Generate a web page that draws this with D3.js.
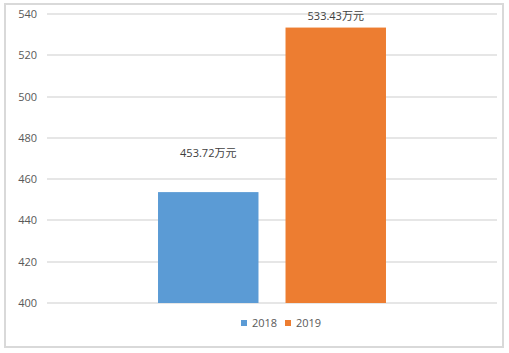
<!DOCTYPE html>
<html>
<head>
<meta charset="utf-8">
<script src="https://cdn.jsdelivr.net/npm/d3@7"></script>
<style>
  body { margin: 0; background: #fff; }
  svg { font-family: "Open Sans", "Noto Sans CJK SC", sans-serif; }
</style>
</head>
<body>
<svg id="chart" width="509" height="353"></svg>
<script>
// chart data
const categories = [""];
const seriesNames = ["2018", "2019"];
const seriesValues = [453.72, 533.43];
const valueLabels = ["453.72万元", "533.43万元"];
const yTicks = [400, 420, 440, 460, 480, 500, 520, 540];

const colors = { "2018": "#5b9bd5", "2019": "#ed7d31" };

const svg = d3.select("#chart");
const plot = { left: 47, right: 497, top: 14, bottom: 303 };

// frame
svg.append("rect")
    .attr("x", 5).attr("y", 4)
    .attr("width", 498).attr("height", 343)
    .attr("fill", "#fff")
    .attr("stroke", "#d9d9d9")
    .attr("stroke-width", 2);

const y = d3.scaleLinear()
    .domain([400, 540])
    .range([plot.bottom, plot.top]);

const x0 = d3.scaleBand()
    .domain(categories)
    .range([plot.left, plot.right])
    .paddingInner(0)
    .paddingOuter(0.487);

const x1 = d3.scaleBand()
    .domain(seriesNames)
    .range([0, x0.bandwidth()])
    .paddingInner(0.212);

// gridlines
svg.append("g")
    .selectAll("line")
    .data(yTicks)
    .enter().append("line")
    .attr("x1", plot.left).attr("x2", plot.right)
    .attr("y1", d => Math.round(y(d)))
    .attr("y2", d => Math.round(y(d)))
    .attr("stroke", "#e6e6e6")
    .attr("stroke-width", 2);

// y axis labels
const yAxis = svg.append("g")
    .attr("transform", `translate(${plot.left - 10},0)`)
    .call(d3.axisLeft(y).tickValues(yTicks).tickSize(0).tickPadding(0));
yAxis.select(".domain").remove();
yAxis.selectAll("text")
    .attr("fill", "#595959")
    .attr("font-size", 11)
    .attr("font-family", "'Open Sans', sans-serif");

const bars = seriesNames.map((s, i) => ({ name: s, value: seriesValues[i], label: valueLabels[i], cat: categories[0] }));

// bars
svg.append("g")
    .selectAll("rect")
    .data(bars)
    .enter().append("rect")
    .attr("x", d => x0(d.cat) + x1(d.name))
    .attr("y", d => y(d.value))
    .attr("width", x1.bandwidth())
    .attr("height", d => y(400) - y(d.value))
    .attr("fill", d => colors[d.name]);

// data labels (Excel placed the 2018 one well above its bar)
const labelOffset = { "2018": 39, "2019": 11 };
svg.append("g")
    .selectAll("text")
    .data(bars)
    .enter().append("text")
    .attr("x", d => x0(d.cat) + x1(d.name) + x1.bandwidth() / 2)
    .attr("y", d => y(d.value) - labelOffset[d.name])
    .attr("dy", "0.35em")
    .attr("text-anchor", "middle")
    .attr("fill", "#404040")
    .attr("font-size", 11)
    .text(d => d.label);

// legend
const legend = svg.append("g")
    .selectAll("g")
    .data(seriesNames)
    .enter().append("g")
    .attr("transform", (d, i) => `translate(${241 + i * 44},320)`);

legend.append("rect")
    .attr("width", 6).attr("height", 6)
    .attr("fill", d => colors[d]);

legend.append("text")
    .attr("x", 11).attr("y", 3)
    .attr("dy", "0.35em")
    .attr("fill", "#595959")
    .attr("font-size", 11)
    .text(d => d);
</script>
</body>
</html>
